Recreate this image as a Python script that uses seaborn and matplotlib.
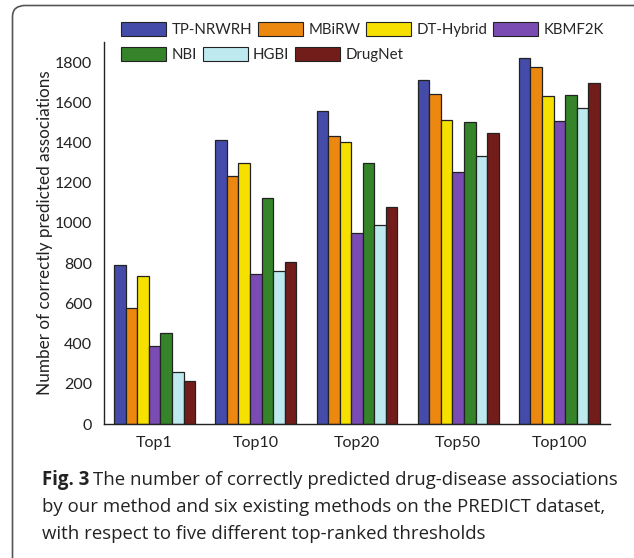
import matplotlib
matplotlib.use("Agg")
import matplotlib.pyplot as plt
import seaborn as sns
import pandas as pd
from matplotlib.patches import Patch, FancyBboxPatch
from matplotlib.ticker import MultipleLocator, FixedLocator

thresholds = ["Top1", "Top10", "Top20", "Top50", "Top100"]
methods = ["TP-NRWRH", "MBiRW", "DT-Hybrid", "KBMF2K", "NBI", "HGBI", "DrugNet"]
tp_nrwrh = [792, 1412, 1556, 1709, 1818]
mbirw = [578, 1233, 1432, 1643, 1777]
dt_hybrid = [737, 1298, 1405, 1512, 1629]
kbmf2k = [389, 746, 951, 1252, 1508]
nbi = [454, 1124, 1299, 1502, 1636]
hgbi = [259, 759, 990, 1334, 1570]
drugnet = [215, 807, 1078, 1446, 1696]
colors = ["#444BA8", "#EC8710", "#F5E000", "#7A4CB3", "#36842A", "#BDE9EF", "#731D1A"]

series = [tp_nrwrh, mbirw, dt_hybrid, kbmf2k, nbi, hgbi, drugnet]
rows = []
for m, vals in zip(methods, series):
    for t, v in zip(thresholds, vals):
        rows.append({"threshold": t, "method": m, "count": v})
df = pd.DataFrame(rows)

sns.set_style("white")
plt.rcParams['font.family'] = ['Lato', 'DejaVu Sans']

W, H = 634, 558
fig = plt.figure(figsize=(W / 100, H / 100), dpi=100)
ax = fig.add_axes([104 / W, 1 - 424 / H, (610 - 104) / W, (424 - 42) / H])

sns.barplot(data=df, x="threshold", y="count", hue="method", order=thresholds,
            hue_order=methods, palette=colors, width=0.8, saturation=1,
            edgecolor="#222222", linewidth=0.9, ax=ax, legend=False)

ax.set_xlim(-0.5, 4.5)
ax.set_ylim(0, 1900)
ax.yaxis.set_major_locator(FixedLocator(range(0, 1801, 200)))
ax.yaxis.set_minor_locator(MultipleLocator(100))
ax.xaxis.set_minor_locator(FixedLocator([-0.5, 0.5, 1.5, 2.5, 3.5, 4.5]))
for s in ["top", "right"]:
    ax.spines[s].set_visible(False)
for s in ["left", "bottom"]:
    ax.spines[s].set_color("#222222")
    ax.spines[s].set_linewidth(1.0)
ax.tick_params(axis="both", which="both", direction="out", color="#222222", width=1.0)
ax.tick_params(axis="both", which="major", length=5, labelsize=11.5, labelcolor="#222222")
ax.tick_params(axis="both", which="minor", length=3)
ax.tick_params(axis="x", which="minor", length=4)
ax.set_xlabel("")
ax.set_ylabel("Number of correctly predicted associations", fontsize=12.3, color="#222222")
ax.yaxis.set_label_coords(-0.10, 0.5)

handles = [Patch(facecolor=c, edgecolor="#222222", linewidth=0.8) for c in colors]
kw = dict(frameon=False, fontsize=10.8, handlelength=3.0, handleheight=1.05,
          handletextpad=0.35, columnspacing=0.4, borderpad=0, borderaxespad=0,
          loc="upper left")
leg1 = fig.legend(handles[:4], methods[:4], ncol=4,
                  bbox_to_anchor=(121 / W, 1 - 22 / H), **kw)
leg2 = fig.legend(handles[4:], methods[4:], ncol=3,
                  bbox_to_anchor=(121 / W, 1 - 47 / H), **kw)

# frame around figure
frame = FancyBboxPatch((12.5 / W, -0.1), 1.2, 1.1 - 5.5 / H,
                       boxstyle="round,pad=0,rounding_size=0.02",
                       transform=fig.transFigure, facecolor="none",
                       edgecolor="#555555", linewidth=1.2, clip_on=False)
fig.patches.append(frame)

# caption
cap_font = ['Open Sans', 'DejaVu Sans']
fs = 13.4
t1 = fig.text(42 / W, 1 - 480 / H, "Fig. 3", fontsize=fs, fontweight="bold",
              family=cap_font, va="center", ha="left", color="#222222")
fig.canvas.draw()
bb = t1.get_window_extent(renderer=fig.canvas.get_renderer())
x_after = (bb.x1 + 4) / W
fig.text(x_after, 1 - 480 / H,
         "The number of correctly predicted drug-disease associations",
         fontsize=fs, family=cap_font, va="center", ha="left", color="#222222")
fig.text(42 / W, 1 - 507 / H,
         "by our method and six existing methods on the PREDICT dataset,",
         fontsize=fs, family=cap_font, va="center", ha="left", color="#222222")
fig.text(42 / W, 1 - 534 / H,
         "with respect to five different top-ranked thresholds",
         fontsize=fs, family=cap_font, va="center", ha="left", color="#222222")

fig.savefig("out.png", dpi=100)
